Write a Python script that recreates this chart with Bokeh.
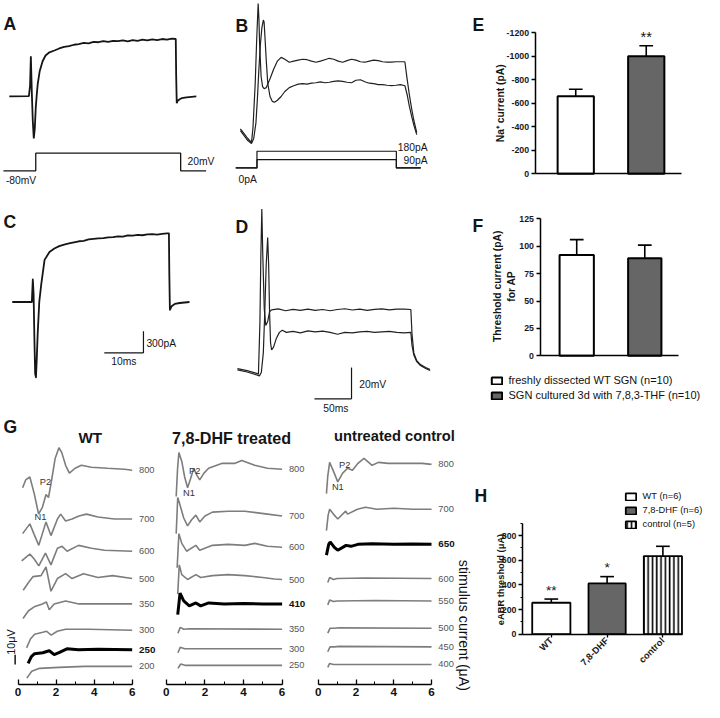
import math
from bokeh.plotting import figure
from bokeh.models import Range1d, Label, FixedTicker, Legend, LegendItem, CanvasTexture
from bokeh.layouts import row, column
from bokeh.embed import file_html
from bokeh.resources import INLINE
from bokeh.core.properties import value

S = 704 / 720
FONT = "Liberation Sans"
INK = "#151515"
GRAY = "#7d7d7d"

# ---------------- data ----------------
# A: sodium current (ms, pA) and voltage command (ms, mV)
A_t = [0, 5.0, 5.3, 5.5, 5.75, 6.0, 6.25, 6.5, 6.75, 7.0, 7.25, 7.75, 8.5, 9.25, 10.25, 11.5, 12.75, 14.0,
       15.25, 16.5, 17.75, 19.0, 20.25, 21.5, 22.75, 24.0, 25.25, 26.5, 27.75, 29.0, 30.25, 31.5, 32.75,
       34.0, 35.25, 36.5, 37.75, 39.0, 40.25, 41.5, 42.5, 42.6, 42.75, 43.0, 43.5, 44.0, 45.25, 46.5, 47.75]
A_i = [0, 5, 150, 560, 50, -350, -585, -450, -160, 20, 170, 350, 490, 570, 615, 640, 668, 690,
       700, 720, 730, 745, 740, 760, 755, 770, 760, 775, 770, 780, 768, 785, 775,
       790, 780, 795, 785, 800, 790, 805, 800, 300, -95, -60, -40, -25, -12, -5, 0]
A_cmd_t = [-1.5, 6.75, 6.75, 43.75, 43.75, 50.25]
A_cmd_mv = [-80, -80, 20, 20, -80, -80]

# B: action potentials (ms, mV) at 180 pA and 90 pA, current command (ms, pA)
B_t_180 = [0, 5, 10, 15, 17, 20, 22, 24, 25, 26, 28, 30, 32, 35, 40, 45, 50, 55, 60, 66, 72, 78, 84, 90,
           96, 102, 108, 114, 120, 126, 132, 138, 144, 150, 156, 162, 168, 174, 180, 186, 192, 198, 204,
           210, 216, 222, 225, 228, 231, 234, 238]
B_v_180 = [-64.4, -67.5, -70.6, -73.1, -63.8, -35.6, -7.5, 15.6, 6.2, -10.6, -31.2, -37.5, -38.8, -38.1,
           -32.5, -26.2, -21.2, -18.8, -20, -21.9, -21.2, -20.6, -20, -20.3, -21.2, -21.9, -21.2, -20.3,
           -19.4, -20, -21.2, -21.9, -20.9, -20, -20.6, -21.6, -21.9, -21.2, -20.6, -20.9, -21.6, -21.9,
           -21.9, -21.6, -21.6, -21.6, -32.5, -42.5, -51.2, -58.8, -66.9]
B_t_90 = [0, 5, 10, 15, 18, 21, 23, 25, 27, 29, 31, 32, 33, 35, 37, 40, 43, 46, 50, 55, 60, 66, 72, 78,
          84, 90, 96, 102, 108, 114, 120, 126, 132, 138, 144, 150, 156, 162, 168, 174, 180, 186, 192, 198,
          204, 210, 216, 222, 225, 228, 231, 234, 238]
B_v_90 = [-65.6, -68.8, -71.9, -73.8, -70.6, -60.6, -45, -26.2, -10.6, 0, 5, 3.8, -4.4, -21.2, -35.6,
          -43.8, -46.9, -47.5, -46.2, -43.8, -40.6, -38.1, -36.9, -35.9, -35.6, -35.9, -35.3, -35, -34.4,
          -35, -34.7, -34.1, -33.8, -34.1, -34.7, -35, -33.4, -33.1, -34.4, -35.3, -35.6, -36.2, -36.2,
          -36.6, -36.9, -36.6, -36.2, -36.9, -42.5, -50, -56.2, -61.9, -68.1]
B_cmd_t = [-6.6, 22.4, 22.4, 210.5, 210.5, 243.4]
B_cmd_180 = [0, 0, 180, 180, 0, 0]
B_cmd_90 = [0, 0, 90, 90, 0, 0]

# C: sodium current after culture (ms, pA)
C_t = [0, 5.0, 5.25, 5.45, 5.65, 5.85, 6.05, 6.25, 6.5, 6.9, 7.4, 8.25, 9.5, 10.75, 12.0, 13.25, 14.5, 15.75,
       17.0, 18.25, 19.5, 20.75, 22.0, 23.25, 24.5, 25.75, 27.0, 28.25, 29.5, 30.75, 32.0, 33.25, 34.5,
       35.75, 37.0, 38.25, 39.5, 40.0, 40.1, 40.25, 40.75, 41.5, 42.75, 45.25]
C_i = [0, 0, 314, 109, -500, -1000, -1050, -800, -437, 0, 246, 587, 696, 745, 778, 800, 815, 830,
       846, 852, 873, 880, 885, 890, 900, 905, 915, 910, 928, 925, 935, 930, 941,
       945, 940, 950, 955, 955, 400, -109, -55, -27, -14, 0]

# D: action potentials after culture (ms, mV)
D_t_hi = [0, 13, 26, 28.3, 30.3, 31.6, 32.9, 34.2, 36.2, 38.2, 40.8, 43.4, 46, 55, 65, 75, 85, 95, 105,
          115, 125, 135, 145, 155, 165, 175, 185, 195, 205, 215, 225, 234, 235.5, 238, 242, 247, 254, 260]
D_v_hi = [-62.5, -63.8, -65.6, -66.2, -33.8, 10, 39.4, 10, -24.4, -35, -32.5, -26.2, -25, -24.4, -25.6,
          -24.7, -25.3, -24.6, -25.4, -24.8, -25.6, -24.8, -24.3, -25.1, -24.6, -25.3, -24.7, -24.4, -25,
          -24.6, -24.5, -24.8, -40, -52.5, -57.5, -60, -61.9, -63.1]
D_t_lo = [0, 13, 26, 29.6, 32.2, 34.9, 36.8, 38.8, 40.8, 42.1, 43.4, 44.7, 46.1, 48.7, 52.6, 56.6, 60.5,
          66, 75, 85, 95, 105, 115, 125, 135, 145, 155, 165, 175, 185, 195, 205, 215, 225, 234, 235.5,
          238, 242, 247, 254, 260]
D_v_lo = [-63.4, -64.7, -66.6, -67.2, -65, -52.5, -27.5, 3.8, 21.2, 3.8, -27.5, -46.2, -50.6, -48.8,
          -43.1, -39.4, -38.1, -39.4, -38.8, -39.7, -38.4, -39.1, -38.6, -39.4, -40.6, -39.4, -39.7,
          -39.1, -38.8, -39.4, -39.1, -38.8, -39.4, -39.7, -39.4, -47.5, -53.8, -58.1, -60.6, -62.5, -63.8]

SCALE_C_MS, SCALE_C_PA = 10, 300
SCALE_D_MS, SCALE_D_MV = 50, 20
SCALE_G_UV = 10

# E: Na+ current peak (pA)
E_mean = [-660, -1000]
E_sem = [60, 90]
E_ticks = [-1200, -1000, -800, -600, -400, -200, 0]
# F: threshold current (pA)
F_mean = [92, 89]
F_sem = [14, 12]
F_ticks = [0, 25, 50, 75, 100, 125]
F_groups = ["freshly dissected WT SGN (n=10)", "SGN cultured 3d with 7,8,3-THF (n=10)"]
# H: eABR threshold (uA)
H_groups = ["WT", "7,8-DHF", "control"]
H_legend = ["WT (n=6)", "7,8-DHF (n=6)", "control (n=5)"]
H_mean = [255, 412, 634]
H_sem = [30, 55, 79]
H_stars = ["**", "*", ""]
H_ticks = [0, 200, 400, 600, 800]
H_minor = [100, 300, 500, 700, 900]

# G: eABR waveforms (ms, uV relative to each trace's own offset)
WT_labels = ["800", "700", "600", "500", "350", "300", "250", "200"]
WT_offset = [220, 170, 137, 109, 83, 56, 36, 19]
WT_bold = 6
WT_T = [
    [0.24, 0.4, 0.62, 0.85, 1.08, 1.28, 1.47, 1.6, 1.75, 1.95, 2.15, 2.3, 2.5, 2.7, 3.0, 3.33, 3.85, 4.7, 5.6, 6.0],
    [0.24, 0.62, 0.85, 1.09, 1.28, 1.47, 1.73, 2.07, 2.24, 2.5, 2.84, 3.2, 3.6, 4.2, 5.06, 6.0],
    [0.19, 0.62, 0.85, 1.09, 1.44, 1.73, 2.07, 2.32, 2.58, 3.18, 3.86, 4.55, 6.0],
    [0.27, 0.55, 0.79, 1.21, 1.47, 1.73, 2.07, 2.5, 2.84, 3.44, 4.2, 4.97, 6.0],
    [0.26, 0.55, 0.85, 1.28, 1.49, 1.64, 1.9, 2.5, 3.2, 6.0],
    [0.45, 0.65, 0.87, 1.3, 1.5, 1.74, 2.06, 2.5, 3.7, 6.0],
    [0.53, 0.7, 0.87, 1.3, 1.64, 1.9, 2.15, 2.57, 3.18, 4.2, 6.0],
    [0.46, 0.72, 1.13, 2.15, 3.5, 6.0],
]
WT_V = [
    [-18, -10, -7, -24, -45, -38, -25, -28, -12, 12, 23, 18, 5, -3, 2, 5, 3, 2, 1, 0],
    [-15, -5, -16, -27, -15, -3, -17, 0, 5, -2, 0, 3, 5, 2, 0, 0],
    [-10, -3, -8, -15, -2, -14, 3, 5, 0, 6, 3, 1, 0],
    [-12, -4, 2, 3, 12, -13, 0, 5, 0, 5, 1, 3, 0],
    [-15, -7, -3, 0, 2, -6, 0, 3, 0, 0],
    [-18, -9, -4, -2, -1, -5, -1, 1, 1, 0],
    [-14, -7, -4, -3, -1, -5, -3, 1, 0, 0.5, 0],
    [-12, -5, -2, -1, 0, 0],
]
DHF_labels = ["800", "700", "600", "500", "410", "350", "300", "250"]
DHF_offset = [221, 173, 141, 108, 83, 57, 37, 20]
DHF_bold = 4
DHF_T = [
    [0.51, 0.58, 0.65, 0.8, 0.95, 1.1, 1.25, 1.42, 1.58, 1.73, 1.95, 2.19, 2.9, 3.56, 3.91, 4.58, 5.24, 6.0],
    [0.51, 0.59, 0.7, 0.9, 1.1, 1.3, 1.53, 1.73, 2.0, 2.39, 3.2, 4.07, 5.24, 6.0],
    [0.56, 0.65, 0.8, 1.05, 1.53, 1.73, 2.39, 3.2, 4.07, 4.58, 5.24, 6.0],
    [0.59, 0.67, 0.8, 1.1, 1.53, 1.78, 2.39, 3.2, 4.07, 5.0, 5.6, 6.0],
    [0.59, 0.71, 0.9, 1.19, 1.53, 1.78, 2.2, 3.0, 4.0, 5.0, 6.0],
    [0.6, 0.72, 0.9, 1.2, 6.0],
    [0.6, 0.72, 0.95, 6.0],
    [0.6, 0.75, 1.0, 6.0],
]
DHF_V = [
    [-28, 0, 17, 8, -8, -19, -10, 1, -6, -11, -4, 1, 6, 6, 9, 4, 1, 0],
    [-18, 19, 12, -2, -10, -4, 1, -6, 0, 4, 5, 5, 2, 0],
    [-21, 14, 4, -4, 2, -3, 2, 3, 2, 4, 1, 0],
    [-15, 15, 5, 0, 5, 2, 4, 5, 4, 2, 0.5, 0],
    [-11, 11, 3, -2, 1, -2, 1, 0, 0.5, 0, 0],
    [-4, 2, 0, 0.5, 0],
    [-4, 1.5, 0, 0],
    [-3, 1.5, 0, 0],
]
CT_labels = ["800", "700", "650", "600", "550", "500", "450", "400"]
CT_offset = [226, 180, 144, 109, 86, 58, 39, 21]
CT_bold = 2
CT_T = [
    [0.43, 0.5, 0.6, 0.8, 1.03, 1.29, 1.55, 1.81, 2.1, 2.42, 2.85, 3.19, 3.71, 4.5, 5.5, 6.0],
    [0.43, 0.52, 0.6, 0.8, 1.03, 1.45, 1.55, 2.07, 2.5, 3.1, 4.0, 5.0, 6.0],
    [0.43, 0.55, 0.63, 0.85, 1.03, 1.47, 1.73, 2.1, 2.85, 4.0, 5.0, 6.0],
    [0.5, 0.6, 0.8, 1.0, 2.5, 6.0],
    [0.5, 0.6, 0.8, 1.0, 3.0, 6.0],
    [0.5, 0.62, 0.85, 1.1, 6.0],
    [0.5, 0.62, 0.85, 1.1, 6.0],
    [0.5, 0.6, 0.8, 1.0, 6.0],
]
CT_V = [
    [-30, -12, 2, -7, -18, -9, -4, -6, 1, 6, -1, 2, 1, 1, 1, 0],
    [-22, -6, 0, -5, -10, -2, -5, 0, 2, 0, 1, 0, 0],
    [-11, 0, 2.5, -3, -6, -1, -2, 0, 0.7, 0, 0.5, 0],
    [-4, 1, -1, 0, 0.5, 0],
    [-4, 1, -0.5, 0, 0.5, 0],
    [-5, 0, 0, 0.5, 0],
    [-5, 0, 0, 0.5, 0],
    [-3, 1, 0, 0, 0],
]
G_ticks = [0, 2, 4, 6]
G_minor = [1, 3, 5]


# ---------------- helpers ----------------
def make_fig(region, xmap, ymap, **kw):
    """Figure whose plotting frame covers the whole region (in reference px)."""
    x0, y0, x1, y1 = region
    a, k = xmap   # px = a + k * x
    b, m = ymap   # py = b - m * y
    W = round(x1 * S) - round(x0 * S)
    H = round(y1 * S) - round(y0 * S)
    p = figure(width=W, height=H,
               x_range=Range1d((x0 - a) / k, (x1 - a) / k),
               y_range=Range1d((b - y1) / m, (b - y0) / m),
               output_backend="svg", toolbar_location=None,
               min_border_left=0, min_border_right=0, min_border_top=0, min_border_bottom=0, **kw)
    p.outline_line_color = None
    p.xgrid.grid_line_color = None
    p.ygrid.grid_line_color = None
    p.background_fill_color = "white"
    p.border_fill_color = "white"
    tx = lambda px: (px - a) / k
    ty = lambda py: (b - py) / m
    return p, tx, ty


def txt(p, x, y, text, size, bold=False, color=INK, align="left", baseline="middle", angle=0.0, **kw):
    p.add_layout(Label(x=x, y=y, text=text, text_font=FONT, text_font_size=f"{size * S:.1f}px",
                       text_font_style="bold" if bold else "normal", text_color=color,
                       text_align=align, text_baseline=baseline, angle=angle, **kw))


def style_axis(ax, size, bold=True):
    ax.axis_line_color = "black"
    ax.axis_line_width = 1.5
    ax.major_tick_line_color = "black"
    ax.major_tick_line_width = 1.3
    ax.minor_tick_line_color = "black"
    ax.minor_tick_line_width = 1.0
    ax.major_label_text_font = FONT
    ax.major_label_text_font_style = "bold" if bold else "normal"
    ax.major_label_text_font_size = f"{size * S:.1f}px"
    ax.major_label_text_color = "#1a1a1a"


checker = CanvasTexture(repetition="repeat", code="""
ctx.fillStyle = color;
const h = scale / 2;
ctx.fillRect(0, 0, h, h);
ctx.fillRect(h, h, h, h);
""")
CHECK = dict(fill_color="#b4b4b4", hatch_pattern=value("checker"), hatch_extra={"checker": checker},
             hatch_color="black", hatch_scale=5)
NOAX = dict(x_axis_location=None, y_axis_location=None)

# ---------------- panel A ----------------
pA, ax_, ay_ = make_fig((0, 0, 240, 190), (9, 4.0), (98, 22 / 300), **NOAX)
pA.extra_y_ranges = {"cmd": Range1d((159.6 - 190) / 0.18, (159.6 - 0) / 0.18)}
pA.line(A_t, A_i, line_color=INK, line_width=1.8)
pA.line(A_cmd_t, A_cmd_mv, y_range_name="cmd", line_color=INK, line_width=1.3)
txt(pA, ax_(3), ay_(24), "A", 18, bold=True)
txt(pA, ax_(21), ay_(184), "-80mV", 10.5, align="center")
txt(pA, ax_(191), ay_(164), "20mV", 10.5)

# ---------------- panel B ----------------
pB, bx_, by_ = make_fig((240, 0, 480, 190), (245, 0.76), (28, 1.6), **NOAX)
pB.extra_y_ranges = {"cmd": Range1d((171 - 190) / 0.0944, (171 - 0) / 0.0944)}
pB.line(B_t_180, B_v_180, line_color="#202020", line_width=1.2)
pB.line(B_t_90, B_v_90, line_color="#202020", line_width=1.2)
pB.line(B_cmd_t, B_cmd_180, y_range_name="cmd", line_color=INK, line_width=1.2)
pB.line(B_cmd_t, B_cmd_90, y_range_name="cmd", line_color=INK, line_width=1.2)
txt(pB, bx_(240), by_(26), "B", 18, bold=True)
txt(pB, bx_(437), by_(150.5), "180pA", 10.5, align="right")
txt(pB, bx_(437), by_(163), "90pA", 10.5, align="right")
txt(pB, bx_(243), by_(183), "0pA", 10.5)

# ---------------- panel C ----------------
pC, cx_, cy_ = make_fig((0, 190, 240, 425), (12, 4.0), (308, 22 / 300), **NOAX)
pC.line(C_t, C_i, line_color=INK, line_width=1.8, line_join="round")
c_t0, c_i0 = cx_(146), cy_(360)
pC.line([c_t0 - SCALE_C_MS, c_t0], [c_i0, c_i0], line_color=INK, line_width=1.2)
pC.line([c_t0, c_t0], [c_i0, c_i0 + SCALE_C_PA], line_color=INK, line_width=1.2)
txt(pC, cx_(3), cy_(226), "C", 18, bold=True)
txt(pC, cx_(149), cy_(350), f"{SCALE_C_PA}pA", 10.5)
txt(pC, cx_(126), cy_(369), f"{SCALE_C_MS}ms", 10.5, align="center")

# ---------------- panel D ----------------
pD, dx_, dy_ = make_fig((240, 190, 480, 425), (242, 0.76), (276, 1.6), **NOAX)
pD.line(D_t_hi, D_v_hi, line_color="#202020", line_width=1.2)
pD.line(D_t_lo, D_v_lo, line_color="#202020", line_width=1.2)
d_t0, d_v0 = dx_(359), dy_(407)
pD.line([d_t0 - SCALE_D_MS, d_t0], [d_v0, d_v0], line_color=INK, line_width=1.2)
pD.line([d_t0, d_t0], [d_v0, d_v0 + SCALE_D_MV], line_color=INK, line_width=1.2)
txt(pD, dx_(240), dy_(231), "D", 18, bold=True)
txt(pD, dx_(367), dy_(392), f"{SCALE_D_MV}mV", 10.5)
txt(pD, dx_(343), dy_(417), f"{SCALE_D_MS}ms", 10.5, align="center")


# ---------------- bar panels ----------------
def bar_axes(p, tx, ty, ax_px, x_end_px, ticks, bounds, size, minor=None):
    style_axis(p.yaxis, size)
    p.yaxis.fixed_location = tx(ax_px)
    p.yaxis.ticker = FixedTicker(ticks=ticks, minor_ticks=minor or [])
    p.yaxis.major_label_overrides = {t: str(t) for t in ticks}
    p.yaxis.bounds = bounds
    p.yaxis.major_tick_out = 4
    p.yaxis.major_tick_in = 0
    p.yaxis.minor_tick_out = 2 if minor else 0
    p.yaxis.minor_tick_in = 0
    p.yaxis.major_label_standoff = 2
    style_axis(p.xaxis, size)
    p.xaxis.fixed_location = 0
    p.xaxis.bounds = (tx(ax_px), tx(x_end_px))


def err_bars(p, xs, means, sems, cap):
    for x, mval, s in zip(xs, means, sems):
        end = mval + (s if mval >= 0 else -s)
        p.segment(x0=[x], y0=[mval], x1=[x], y1=[end], line_color="black", line_width=1.6)
        p.segment(x0=[x - cap], y0=[end], x1=[x + cap], y1=[end], line_color="black", line_width=1.6)


# E
pE, ex_, ey_ = make_fig((480, 0, 720, 190), (552.5, 36.0), (177, -0.12))
bar_axes(pE, ex_, ey_, 547, 697, E_ticks, (-1200, 0), 9)
pE.xaxis.ticker = FixedTicker(ticks=[])
pE.xaxis.major_tick_out = 0
E_x = [1, 3]
pE.vbar(x=[E_x[0]], top=[E_mean[0]], bottom=0, width=37 / 36, fill_color="white", line_color="black", line_width=2)
pE.vbar(x=[E_x[1]], top=[E_mean[1]], bottom=0, width=37 / 36, line_color="black", line_width=2, **CHECK)
err_bars(pE, E_x, E_mean, E_sem, 7 / 36)
txt(pE, E_x[1], E_mean[1] - E_sem[1], "**", 15, align="center", y_offset=9 * S)
txt(pE, ex_(483), ey_(25), "E", 18, bold=True)
txt(pE, ex_(512), ey_(105), "Na\u207a current (pA)", 10.5, bold=True, align="center", angle=math.pi / 2)

# F
pF, fx_, fy_ = make_fig((480, 190, 720, 425), (554.75, 34.75), (363, 1.12))
bar_axes(pF, fx_, fy_, 552, 693, F_ticks, (0, 125), 9)
pF.xaxis.ticker = FixedTicker(ticks=[])
pF.xaxis.major_tick_out = 0
F_x = [1, 3]
rF1 = pF.vbar(x=[F_x[0]], top=[F_mean[0]], bottom=0, width=35 / 34.75, fill_color="white", line_color="black", line_width=2)
rF2 = pF.vbar(x=[F_x[1]], top=[F_mean[1]], bottom=0, width=34 / 34.75, line_color="black", line_width=2, **CHECK)
err_bars(pF, F_x, F_mean, F_sem, 7 / 34.75)
txt(pF, fx_(483), fy_(230), "F", 18, bold=True)
txt(pF, fx_(509), fy_(292), "Threshold current (pA)", 10.5, bold=True, align="center", angle=math.pi / 2)
txt(pF, fx_(523), fy_(292), "for AP", 10.5, bold=True, align="center", angle=math.pi / 2)
legF = Legend(items=[LegendItem(label=F_groups[0], renderers=[rF1]),
                     LegendItem(label=F_groups[1], renderers=[rF2])],
              location=((501 - 480) * S, (425 - 410) * S),
              glyph_width=round(13 * S), glyph_height=round(9 * S), label_standoff=round(6 * S),
              label_text_font=FONT, label_text_font_size=f"{11.2 * S:.1f}px", label_text_color="#111",
              label_height=round(12 * S), spacing=round(3 * S), padding=0, margin=0,
              border_line_color=None, background_fill_alpha=0)
pF.add_layout(legF)

# H
H_REGION = (484, 425, 720, 718)
pH, hx_, hy_ = make_fig(H_REGION, (506.5, 57.0), (648, 0.12625))
bar_axes(pH, hx_, hy_, 534, 698, H_ticks, (0, 900), 9, minor=H_minor)
H_x = [1, 2, 3]
pH.xaxis.ticker = FixedTicker(ticks=H_x)
pH.xaxis.major_label_overrides = {x: g for x, g in zip(H_x, H_groups)}
pH.xaxis.major_label_orientation = math.pi / 4
pH.xaxis.major_label_text_font_size = f"{9.5 * S:.1f}px"
pH.xaxis.major_tick_out = 3
pH.xaxis.major_tick_in = 0
pH.xaxis.major_label_standoff = 2
rH1 = pH.vbar(x=[H_x[0]], top=[H_mean[0]], bottom=0, width=39 / 57, fill_color="white", line_color="black", line_width=1.8)
rH2 = pH.vbar(x=[H_x[1]], top=[H_mean[1]], bottom=0, width=38 / 57, line_color="black", line_width=1.8, **CHECK)
rH3 = pH.vbar(x=[H_x[2]], top=[H_mean[2]], bottom=0, width=39 / 57, fill_color="white", line_color="black",
              line_width=1.8, hatch_pattern="vertical_line", hatch_color="black", hatch_scale=4.3, hatch_weight=1.6)
err_bars(pH, H_x, H_mean, H_sem, 7 / 57)
for x, mval, s, st in zip(H_x, H_mean, H_sem, H_stars):
    if st:
        txt(pH, x, mval + s, st, 14, align="center", y_offset=9 * S)
txt(pH, hx_(485), hy_(506), "H", 18, bold=True)
txt(pH, hx_(512), hy_(592), "eABR threshold (\u03bcA)", 9.5, bold=True, align="center", angle=math.pi / 2)
legH = Legend(items=[LegendItem(label=H_legend[0], renderers=[rH1]),
                     LegendItem(label=H_legend[1], renderers=[rH2]),
                     LegendItem(label=H_legend[2], renderers=[rH3])],
              location=((638 - H_REGION[0]) * S, (718 - 542) * S),
              glyph_width=round(13 * S), glyph_height=round(9 * S), label_standoff=round(6 * S),
              label_text_font=FONT, label_text_font_size=f"{9.5 * S:.1f}px", label_text_color="#111",
              label_height=round(11 * S), spacing=round(3 * S), padding=0, margin=0,
              border_line_color=None, background_fill_alpha=0)
pH.add_layout(legH)


# ---------------- panel G ----------------
def g_panel(region, xmap, T, V, offs, labels, bold, label_px):
    p, tx, ty = make_fig(region, xmap, (700, 1.0), y_axis_location=None)
    style_axis(p.xaxis, 12, bold=True)
    p.xaxis.fixed_location = 0
    p.xaxis.ticker = FixedTicker(ticks=G_ticks, minor_ticks=G_minor)
    p.xaxis.bounds = (0, 6)
    p.xaxis.axis_line_width = 1.3
    p.xaxis.major_tick_in = 5
    p.xaxis.major_tick_out = 0
    p.xaxis.minor_tick_in = 3
    p.xaxis.minor_tick_out = 0
    p.xaxis.major_label_standoff = 3
    p.xaxis.major_label_text_color = "#111"
    for i, (t, v) in enumerate(zip(T, V)):
        ys = [offs[i] + vv for vv in v]
        isb = i == bold
        p.line(t, ys, line_color="black" if isb else GRAY, line_width=3.0 if isb else 1.6)
        txt(p, tx(label_px), offs[i], labels[i], 10 if isb else 9.5, bold=isb,
            color="#111" if isb else "#555")
    return p, tx, ty


pG1, g1x, g1y = g_panel((0, 425, 162, 718), (18, 19.5), WT_T, WT_V, WT_offset, WT_labels, WT_bold, 142)
pG2, g2x, g2y = g_panel((162, 425, 318, 718), (170, 19.67), DHF_T, DHF_V, DHF_offset, DHF_labels, DHF_bold, 295)
pG3, g3x, g3y = g_panel((318, 425, H_REGION[0], 718), (325, 19.33), CT_T, CT_V, CT_offset, CT_labels, CT_bold, 448)

txt(pG1, g1x(3), g1y(436), "G", 18, bold=True)
txt(pG1, g1x(92), g1y(447), "WT", 15.5, bold=True, align="center")
txt(pG2, g2x(236.5), g2y(447), "7,8-DHF treated", 16.5, bold=True, align="center")
txt(pG3, g3x(403), g3y(445), "untreated control", 15, bold=True, align="center")
for p, gx, gy, pp, nn in [(pG1, g1x, g1y, (46, 492), (41, 528)),
                          (pG2, g2x, g2y, (199, 481), (193, 503)),
                          (pG3, g3x, g3y, (352, 475), (345, 497))]:
    txt(p, gx(pp[0]), gy(pp[1]), "P2", 9.5, color="#333", align="center")
    txt(p, gx(nn[0]), gy(nn[1]), "N1", 9.5, color="#333", align="center")
g_bt, g_by = g1x(15), g1y(679)
pG1.line([g_bt, g_bt], [g_by, g_by + SCALE_G_UV], line_color=INK, line_width=1.5)
txt(pG1, g1x(11), g1y(656), "10\u03bcV", 11, align="center", angle=math.pi / 2)
txt(pG3, g3x(474), g3y(639), "stimulus current (\u03bcA)", 14.5, color="#111", align="center",
    angle=-math.pi / 2)

layout = column(row(pA, pB, pE), row(pC, pD, pF), row(pG1, pG2, pG3, pH))
open("out.html", "w").write(file_html(layout, INLINE, "figure"))
